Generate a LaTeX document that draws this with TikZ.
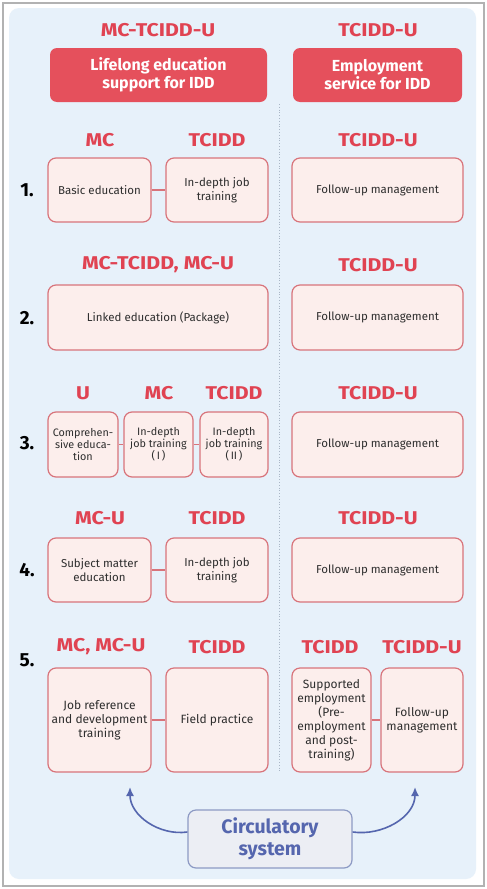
\documentclass[tikz,border=0pt]{standalone}
\usepackage{fontspec}
\setmainfont{Fira Sans}
\newfontfamily\widefont[FakeStretch=1.15]{Fira Sans}
\usetikzlibrary{arrows.meta}
\definecolor{bgblue}{HTML}{E7F1FA}
\definecolor{hdrred}{HTML}{E5505C}
\definecolor{orgred}{HTML}{E04352}
\definecolor{boxfill}{HTML}{FCEEEC}
\definecolor{boxline}{HTML}{D8747B}
\definecolor{txt}{HTML}{2E2E2E}
\definecolor{circfill}{HTML}{ECEEF4}
\definecolor{circline}{HTML}{8D9AC4}
\definecolor{circtxt}{HTML}{5566AE}
\definecolor{divline}{HTML}{A9B6C6}
\tikzset{
 hdr/.style={fill=hdrred, rounded corners=7pt, text=white, align=center, inner sep=0pt,
   font=\bfseries\fontsize{16}{18}\selectfont},
 org/.style={text=orgred, font=\widefont\bfseries\fontsize{18.5}{20}\selectfont, inner sep=0pt},
 num/.style={text=black, font=\bfseries\fontsize{19}{20}\selectfont, inner sep=0pt},
 rbox/.style={draw=boxline, line width=1.2pt, fill=boxfill, rounded corners=8pt, align=center,
   inner sep=0pt, text=txt, font=\fontsize{11.5}{13.5}\selectfont},
 bigtxt/.style={font=\fontsize{12}{14}\selectfont},
 smtxt/.style={font=\fontsize{10.8}{12}\selectfont},
 link/.style={draw=boxline, line width=1.2pt},
 circbox/.style={draw=circline, line width=1.2pt, fill=circfill, rounded corners=8pt, align=center,
   text=circtxt, font=\bfseries\fontsize{19.5}{22}\selectfont, inner sep=0pt},
 carrow/.style={draw=circtxt, line width=1.6pt, -{Latex[length=9pt,width=8pt]}}
}
\begin{document}
\begin{tikzpicture}[x=1pt,y=-1pt]
\useasboundingbox (0,0) rectangle (487,889);
\fill[white] (0,0) rectangle (487,889);
\draw[gray!60, line width=1.6pt] (3,3) rectangle (484,886);
\fill[bgblue, rounded corners=10pt] (9,8) rectangle (476,879);
\draw[divline, dotted, line width=0.8pt] (279,104) -- (279,773);

% titles and headers
\node[org] (t1) at (158,30) {MC-TCIDD-U};
\node[org] (t2) at (378,30) {TCIDD-U};
\node[hdr, minimum width=217pt, minimum height=54pt] (h1) at (158.5,75) {Lifelong education\\support for IDD};
\node[hdr, minimum width=169pt, minimum height=54pt] (h2) at (377.5,75) {Employment\\service for IDD};

% row 1
\node[org] (l1a) at (100,140) {MC};
\node[org] (l1b) at (217,140) {TCIDD};
\node[org] (l1c) at (378,140) {TCIDD-U};
\node[num] (n1) at (27,190) {1.};
\node[rbox, minimum width=103pt, minimum height=64pt] (b1a) at (99.5,190) {Basic education};
\node[rbox, minimum width=102pt, minimum height=64pt] (b1b) at (217,190) {In-depth job\\training};
\node[rbox, minimum width=171pt, minimum height=64pt] (b1c) at (377.5,190) {Follow-up management};
\draw[link] (b1a) -- (b1b);

% row 2
\node[org] (l2a) at (158,265) {MC-TCIDD, MC-U};
\node[org] (l2c) at (378,265) {TCIDD-U};
\node[num] (n2) at (27,318) {2.};
\node[rbox, minimum width=220pt, minimum height=65pt] (b2a) at (158,317.5) {Linked education (Package)};
\node[rbox, minimum width=171pt, minimum height=65pt] (b2c) at (377.5,317.5) {Follow-up management};

% row 3
\node[org] (l3a) at (83,393) {U};
\node[org] (l3b) at (159,393) {MC};
\node[org] (l3c) at (234,393) {TCIDD};
\node[org] (l3d) at (378,393) {TCIDD-U};
\node[num] (n3) at (27,443) {3.};
\node[rbox, smtxt, minimum width=70pt, minimum height=65pt] (b3a) at (83,444.5) {Comprehen-\\sive educa-\\tion};
\node[rbox, smtxt, minimum width=69pt, minimum height=65pt] (b3b) at (158.5,444.5) {In-depth\\job training\\(\,I\,)};
\node[rbox, smtxt, minimum width=68pt, minimum height=65pt] (b3c) at (234,444.5) {In-depth\\job training\\(\,II\,)};
\node[rbox, minimum width=171pt, minimum height=65pt] (b3d) at (377.5,444.5) {Follow-up management};
\draw[link] (b3a) -- (b3b);
\draw[link] (b3b) -- (b3c);

% row 4
\node[org] (l4a) at (100,518) {MC-U};
\node[org] (l4b) at (217,518) {TCIDD};
\node[org] (l4c) at (378,518) {TCIDD-U};
\node[num] (n4) at (27,570) {4.};
\node[rbox, minimum width=103pt, minimum height=64pt] (b4a) at (99.5,570) {Subject matter\\education};
\node[rbox, minimum width=102pt, minimum height=64pt] (b4b) at (217,570) {In-depth job\\training};
\node[rbox, minimum width=171pt, minimum height=64pt] (b4c) at (377.5,570) {Follow-up management};
\draw[link] (b4a) -- (b4b);

% row 5
\node[org] (l5a) at (101,647) {MC, MC-U};
\node[org] (l5b) at (217,647) {TCIDD};
\node[org] (l5c) at (330,647) {TCIDD};
\node[org] (l5d) at (422,647) {TCIDD-U};
\node[num] (n5) at (27,660) {5.};
\node[rbox, bigtxt, minimum width=103pt, minimum height=104pt] (b5a) at (99.5,720) {Job reference\\and development\\training};
\node[rbox, bigtxt, minimum width=102pt, minimum height=104pt] (b5b) at (217,720) {Field practice};
\node[rbox, bigtxt, minimum width=79pt, minimum height=104pt] (b5c) at (331.5,720) {Supported\\employment\\(Pre-\\employment\\and post-\\training)};
\node[rbox, bigtxt, minimum width=82pt, minimum height=104pt] (b5d) at (422,720) {Follow-up\\management};
\draw[link] (b5a) -- (b5b);
\draw[link] (b5c) -- (b5d);

% circulatory system
\node[circbox, minimum width=164pt, minimum height=58pt] (circ) at (270,839) {Circulatory\\system};
\coordinate (ta) at (130,787);
\coordinate (tb) at (415,787);
\draw[carrow] ([yshift=7pt]circ.west) to[out=188, in=-90] (ta);
\draw[carrow] ([yshift=7pt]circ.east) to[out=-8, in=-90] (tb);
\end{tikzpicture}
\end{document}
